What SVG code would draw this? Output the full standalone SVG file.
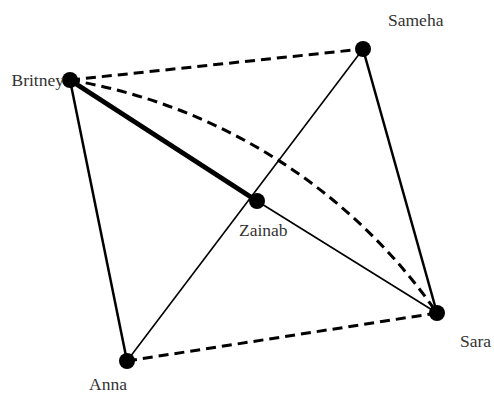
<svg xmlns="http://www.w3.org/2000/svg" width="494" height="395" viewBox="0 0 494 395">
<style>
.e{stroke:#000;fill:none}
.d{stroke-width:3;stroke-dasharray:10,6}
.s{stroke-width:2.5}
.t{stroke-width:1.6}
.k{stroke-width:5}
.n{fill:#000}
.l{font-family:"Liberation Serif",serif;font-size:17.5px;fill:#333}
</style>
<rect width="494" height="395" fill="#fff"/>
<g id="edges">
<line class="e d" x1="70" y1="80" x2="363" y2="49"/>
<path class="e d" d="M70,80 A560,560 0 0 1 437,313"/>
<line class="e d" x1="127" y1="361" x2="437" y2="313"/>
<line class="e k" x1="70" y1="80" x2="257" y2="201"/>
<line class="e s" x1="70" y1="80" x2="127" y2="361"/>
<line class="e s" x1="363" y1="49" x2="437" y2="313"/>
<line class="e t" x1="363" y1="49" x2="127" y2="361"/>
<line class="e t" x1="257" y1="201" x2="437" y2="313"/>
</g>
<g id="Britney"><circle class="n" cx="70" cy="80" r="8"/><text class="l" x="64" y="86" text-anchor="end">Britney</text></g>
<g id="Sameha"><circle class="n" cx="363" cy="49" r="8"/><text class="l" x="388" y="26">Sameha</text></g>
<g id="Zainab"><circle class="n" cx="257" cy="201" r="8"/><text class="l" x="239" y="236">Zainab</text></g>
<g id="Sara"><circle class="n" cx="437" cy="313" r="8"/><text class="l" x="460" y="347">Sara</text></g>
<g id="Anna"><circle class="n" cx="127" cy="361" r="8"/><text class="l" x="89" y="390">Anna</text></g>
</svg>
